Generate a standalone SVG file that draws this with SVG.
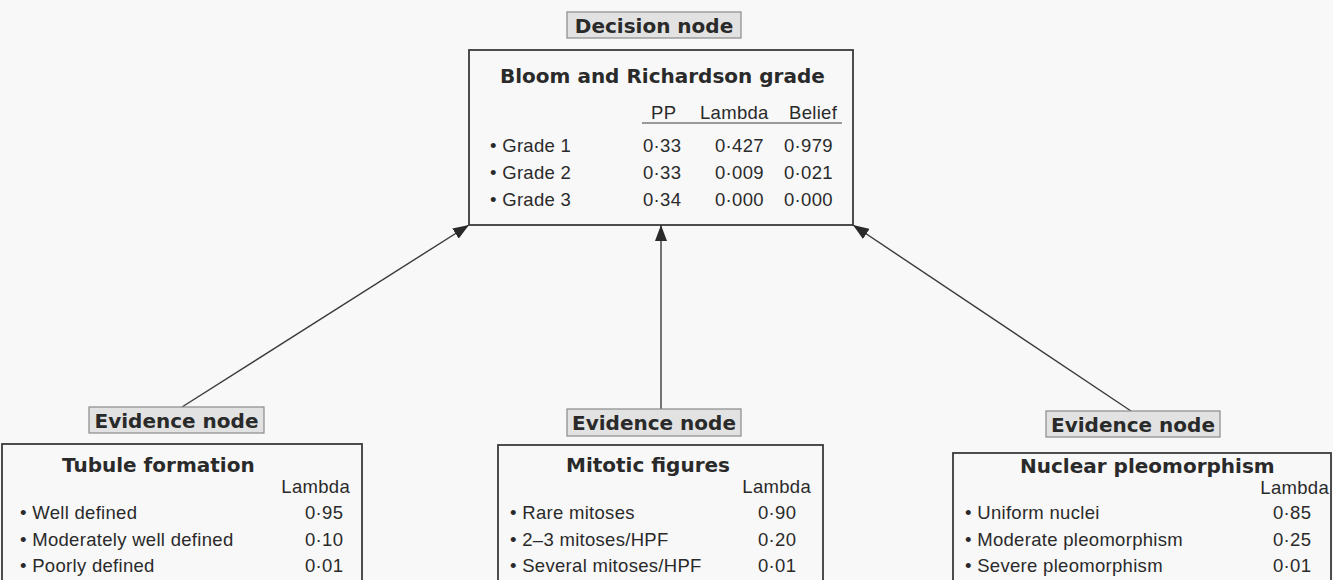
<svg xmlns="http://www.w3.org/2000/svg" width="1333" height="580" viewBox="0 0 1333 580">
<defs>
<style>
.bg{fill:#f8f8f8}
.box{fill:none;stroke:#3a3a3a;stroke-width:1.8}
.lab{fill:#e2e2e2;stroke:#8a8a8a;stroke-width:1.2}
.b{font-family:"DejaVu Sans",sans-serif;font-weight:bold;font-size:20px;fill:#2a2a2a}
.t{font-family:"Liberation Sans",Arial,sans-serif;font-size:18.5px;letter-spacing:0.3px;fill:#2a2a2a}
.c{text-anchor:middle}
.e{text-anchor:end}
.ln{stroke:#3a3a3a;stroke-width:1;fill:none}
.conn{stroke:#3a3a3a;stroke-width:1.4;fill:none;marker-end:url(#ah)}
</style>
<marker id="ah" markerUnits="userSpaceOnUse" markerWidth="16" markerHeight="12" refX="16" refY="6" orient="auto">
<path d="M0,0 L16,6 L0,12 z" fill="#2a2a2a"/>
</marker>
</defs>
<rect class="bg" x="0" y="0" width="1333" height="580"/>

<g id="connectors">
<line class="conn" x1="182" y1="407" x2="469" y2="225"/>
<line class="conn" x1="661" y1="409" x2="661" y2="225"/>
<line class="conn" x1="1131" y1="411" x2="853" y2="225"/>
</g>

<g id="decision-node">
<rect class="lab" x="567" y="12" width="174" height="26"/>
<text class="b c" x="654" y="33">Decision node</text>
<rect class="box" x="469" y="50" width="384" height="175"/>
<text class="b" x="500" y="83">Bloom and Richardson grade</text>
<text class="t" x="651" y="119">PP</text>
<text class="t" x="700" y="119">Lambda</text>
<text class="t" x="789" y="119">Belief</text>
<line class="ln" x1="642" y1="123" x2="842" y2="123"/>
<text class="t" x="490" y="152">• Grade 1</text>
<text class="t" x="643" y="152">0·33</text>
<text class="t" x="715" y="152">0·427</text>
<text class="t" x="784" y="152">0·979</text>
<text class="t" x="490" y="179">• Grade 2</text>
<text class="t" x="643" y="179">0·33</text>
<text class="t" x="715" y="179">0·009</text>
<text class="t" x="784" y="179">0·021</text>
<text class="t" x="490" y="206">• Grade 3</text>
<text class="t" x="643" y="206">0·34</text>
<text class="t" x="715" y="206">0·000</text>
<text class="t" x="784" y="206">0·000</text>
</g>

<g id="evidence-tubule">
<rect class="lab" x="89" y="407" width="175" height="26"/>
<text class="b c" x="176.5" y="428">Evidence node</text>
<rect class="box" x="2" y="444" width="360" height="150"/>
<text class="b" x="62" y="472">Tubule formation</text>
<text class="t e" x="350" y="493">Lambda</text>
<text class="t" x="20" y="519">• Well defined</text>
<text class="t" x="305" y="519">0·95</text>
<text class="t" x="20" y="546">• Moderately well defined</text>
<text class="t" x="305" y="546">0·10</text>
<text class="t" x="20" y="572">• Poorly defined</text>
<text class="t" x="305" y="572">0·01</text>
</g>

<g id="evidence-mitotic">
<rect class="lab" x="567" y="409" width="174" height="27"/>
<text class="b c" x="654" y="430">Evidence node</text>
<rect class="box" x="498" y="445" width="325" height="150"/>
<text class="b" x="566" y="472">Mitotic figures</text>
<text class="t e" x="811" y="493">Lambda</text>
<text class="t" x="510" y="519">• Rare mitoses</text>
<text class="t" x="758" y="519">0·90</text>
<text class="t" x="510" y="546">• 2–3 mitoses/HPF</text>
<text class="t" x="758" y="546">0·20</text>
<text class="t" x="510" y="572">• Several mitoses/HPF</text>
<text class="t" x="758" y="572">0·01</text>
</g>

<g id="evidence-nuclear">
<rect class="lab" x="1046" y="411" width="174" height="26"/>
<text class="b c" x="1133" y="432">Evidence node</text>
<rect class="box" x="953" y="453" width="378" height="150"/>
<text class="b" x="1020" y="473">Nuclear pleomorphism</text>
<text class="t e" x="1329" y="494">Lambda</text>
<text class="t" x="965" y="519">• Uniform nuclei</text>
<text class="t" x="1273" y="519">0·85</text>
<text class="t" x="965" y="546">• Moderate pleomorphism</text>
<text class="t" x="1273" y="546">0·25</text>
<text class="t" x="965" y="572">• Severe pleomorphism</text>
<text class="t" x="1273" y="572">0·01</text>
</g>
</svg>
